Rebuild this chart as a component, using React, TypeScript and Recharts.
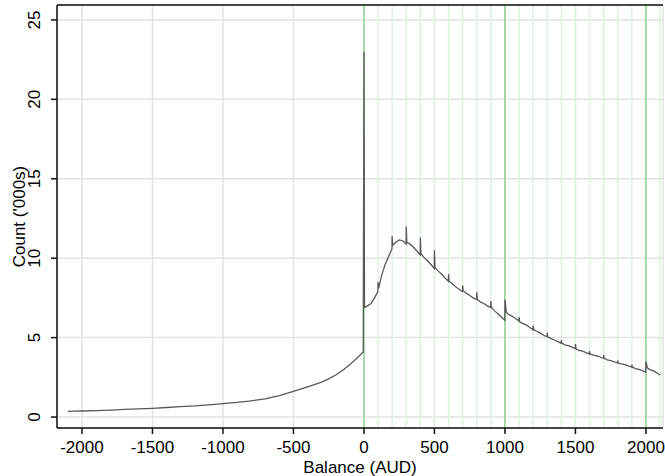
import { LineChart, Line, XAxis, YAxis, CartesianGrid, ReferenceLine } from 'recharts';

// balance (AUD), count ('000s)
const belowZero: [number, number][] = [
  [-2100, 0.36], [-2050, 0.37], [-2000, 0.38], [-1900, 0.41], [-1800, 0.44],
  [-1700, 0.48], [-1600, 0.51], [-1500, 0.55], [-1400, 0.6], [-1300, 0.65],
  [-1200, 0.7], [-1100, 0.77], [-1000, 0.84], [-900, 0.92], [-800, 1.02],
  [-700, 1.15], [-600, 1.35], [-500, 1.62], [-400, 1.9], [-300, 2.2],
  [-250, 2.4], [-200, 2.65], [-150, 2.95], [-100, 3.3], [-50, 3.7], [-5, 4.1],
];

const aboveZero: [number, number][] = [
  [0, 23.0], [4, 6.9], [25, 7.0], [50, 7.15], [75, 7.5], [99, 7.9], [100, 8.5], [104, 8.1],
  [125, 8.9], [150, 9.6], [175, 10.1], [199, 10.6], [200, 11.4], [204, 10.8],
  [225, 11.0], [250, 11.15], [275, 11.1], [299, 10.9], [300, 12.0], [304, 11.0],
  [325, 10.9], [350, 10.7], [375, 10.45], [399, 10.2], [400, 11.3], [404, 10.3],
  [425, 10.05], [450, 9.85], [475, 9.6], [499, 9.35], [500, 10.5], [504, 9.4],
  [525, 9.2], [550, 9.0], [575, 8.75], [599, 8.55], [600, 9.0], [604, 8.55],
  [625, 8.4], [650, 8.2], [675, 8.05], [699, 7.9], [700, 8.3], [704, 7.95],
  [725, 7.8], [750, 7.65], [775, 7.5], [799, 7.4], [800, 7.85], [804, 7.4],
  [825, 7.25], [850, 7.15], [875, 7.0], [899, 6.9], [900, 7.3], [904, 6.9],
  [925, 6.7], [950, 6.5], [975, 6.3], [999, 6.1], [1000, 7.4], [1010, 6.6],
  [1025, 6.45], [1050, 6.35], [1075, 6.2], [1099, 6.05], [1100, 6.3], [1104, 6.0],
  [1125, 5.9], [1150, 5.8], [1175, 5.65], [1199, 5.5], [1200, 5.75], [1204, 5.5],
  [1225, 5.4], [1250, 5.3], [1275, 5.15], [1299, 5.05], [1300, 5.3], [1304, 5.05],
  [1325, 4.95], [1350, 4.85], [1375, 4.75], [1399, 4.65], [1400, 4.85], [1404, 4.65],
  [1425, 4.55], [1450, 4.5], [1475, 4.4], [1499, 4.3], [1500, 4.6], [1504, 4.3],
  [1525, 4.2], [1550, 4.15], [1575, 4.05], [1599, 3.97], [1600, 4.15], [1604, 3.97],
  [1625, 3.9], [1650, 3.85], [1675, 3.78], [1699, 3.7], [1700, 3.9], [1704, 3.7],
  [1725, 3.6], [1750, 3.55], [1775, 3.48], [1799, 3.4], [1800, 3.55], [1804, 3.4],
  [1825, 3.35], [1850, 3.3], [1875, 3.22], [1899, 3.15], [1900, 3.3], [1904, 3.15],
  [1925, 3.05], [1950, 3.0], [1975, 2.92], [1999, 2.82], [2000, 3.5], [2010, 3.1],
  [2025, 3.0], [2050, 2.92], [2075, 2.8], [2100, 2.65],
];

const xTicks = [-2000, -1500, -1000, -500, 0, 500, 1000, 1500, 2000];
const yTicks = [0, 5, 10, 15, 20, 25];
const hundreds = [100, 200, 300, 400, 500, 600, 700, 800, 900, 1100, 1200, 1300, 1400, 1500, 1600, 1700, 1800, 1900, 2100];
const thousands = [0, 1000, 2000];

const X_DOMAIN: [number, number] = [-2177, 2121];
const Y_DOMAIN: [number, number] = [-0.69, 25.94];

const data = [...belowZero, ...aboveZero].map(([balance, count]) => ({ balance, count }));

const font = '"Liberation Sans", Arial, Helvetica, sans-serif';

const YTick = (props: any) => {
  const { x, y, payload } = props;
  const bx = x - 11;
  return (
    <text
      x={bx}
      y={y}
      transform={`rotate(-90, ${bx}, ${y})`}
      textAnchor="middle"
      fontSize={17}
      fontFamily={font}
      fill="#000"
    >
      {payload.value}
    </text>
  );
};

export default function App() {
  return (
    <div style={{ position: 'absolute', left: 0, top: 0, background: '#fff' }}>
      <LineChart
        width={665}
        height={476}
        data={data}
        margin={{ top: 5, right: 2, bottom: 0, left: 0 }}
      >
        <CartesianGrid stroke="#e3e3e3" strokeWidth={1.5} />
        {hundreds.map((v) => (
          <ReferenceLine key={v} x={v} stroke="#e1f1e1" strokeWidth={1.5} />
        ))}
        {thousands.map((v) => (
          <ReferenceLine key={v} x={v} stroke="#7fcc7f" strokeWidth={1.2} />
        ))}
        <ReferenceLine y={Y_DOMAIN[1]} stroke="#111" strokeWidth={1.5} />
        <XAxis
          dataKey="balance"
          type="number"
          domain={X_DOMAIN}
          ticks={xTicks}
          allowDataOverflow
          height={48}
          stroke="#111"
          strokeWidth={1.5}
          tickSize={6}
          tickMargin={7}
          tick={{ fontSize: 17, fontFamily: font, fill: '#000' }}
          label={{
            value: 'Balance (AUD)',
            position: 'insideBottom',
            offset: 3,
            fontSize: 17,
            fontFamily: font,
            fill: '#000',
          }}
        />
        <YAxis
          type="number"
          domain={Y_DOMAIN}
          ticks={yTicks}
          allowDataOverflow
          width={57}
          stroke="#111"
          strokeWidth={1.5}
          tickSize={6}
          tickMargin={0}
          tick={<YTick />}
          label={{
            value: "Count ('000s)",
            angle: -90,
            position: 'insideLeft',
            offset: 19,
            fontSize: 17,
            fontFamily: font,
            fill: '#000',
            style: { textAnchor: 'middle' },
          }}
        />
        <Line
          type="linear"
          dataKey="count"
          stroke="#595959"
          strokeWidth={1.3}
          dot={false}
          isAnimationActive={false}
        />
      </LineChart>
    </div>
  );
}
